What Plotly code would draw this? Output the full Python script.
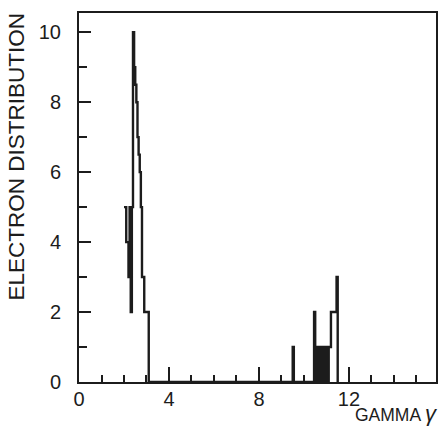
import plotly.graph_objects as go

# Histogram bins (left edges, gamma) and electron counts
gamma_bins = [2.00, 2.05, 2.10, 2.15, 2.20, 2.25, 2.30, 2.35, 2.40, 2.45, 2.50,
              2.55, 2.60, 2.65, 2.70, 2.75, 2.80, 2.85, 2.90, 2.95, 3.00, 3.05, 3.10,
              9.50, 9.55,
              10.45, 10.50, 10.60, 10.65, 10.70, 10.75, 10.80, 10.85, 10.90, 10.95,
              11.00, 11.05, 11.10, 11.15, 11.20, 11.25, 11.30, 11.35, 11.40, 11.45, 11.50]
electron_counts = [5, 5, 4, 4, 3, 5, 2, 5, 10, 9, 8.5,
                   8, 7, 6.5, 6, 5, 3, 3, 2, 2, 2, 2, 0,
                   1, 0,
                   2, 0, 1, 0, 1, 1, 0, 1, 0, 1,
                   1, 0, 1, 1, 2, 2, 2, 2, 2, 3, 0]

x_ticks = [0, 4, 8, 12]
y_ticks = [0, 2, 4, 6, 8, 10]

ink = "#1c1c1c"
font_family = "Liberation Sans, Arial, sans-serif"

fig = go.Figure()
fig.add_trace(go.Scatter(
    x=gamma_bins, y=electron_counts, mode="lines",
    line=dict(shape="hv", color=ink, width=2.4),
    showlegend=False, hoverinfo="skip"))

fig.update_layout(
    width=444, height=430,
    margin=dict(l=79, r=8, t=13, b=48, autoexpand=False),
    paper_bgcolor="white", plot_bgcolor="white",
    font=dict(family=font_family, color=ink),
)
fig.update_xaxes(
    range=[0, 15.87], tickvals=x_ticks, ticktext=[str(v) for v in x_ticks],
    ticks="inside", ticklen=15, tickwidth=2, tickcolor=ink,
    minor=dict(dtick=1, tick0=0, ticks="inside", ticklen=7, tickwidth=2, tickcolor=ink),
    showline=True, linewidth=2, linecolor=ink, mirror=True,
    showgrid=False, zeroline=False, tickfont=dict(size=20),
    automargin=False, ticklabelstandoff=-2,
)
fig.update_yaxes(
    range=[0, 10.55], tickvals=y_ticks, ticktext=[str(v) for v in y_ticks],
    ticks="inside", ticklen=12, tickwidth=2, tickcolor=ink,
    minor=dict(dtick=1, tick0=0, ticks="inside", ticklen=8, tickwidth=2, tickcolor=ink),
    showline=True, linewidth=2, linecolor=ink, mirror=True,
    showgrid=False, zeroline=False, tickfont=dict(size=20),
    automargin=False, ticklabelstandoff=12,
)
fig.add_annotation(
    text="ELECTRON DISTRIBUTION", textangle=-90,
    xref="paper", yref="paper", x=-0.175, y=0.61,
    xanchor="center", yanchor="middle", showarrow=False,
    font=dict(size=22.5, color=ink, family=font_family))
fig.add_annotation(
    text="GAMMA <i><span style='font-size:22px'>γ</span></i>",
    xref="paper", yref="paper", x=1.012, y=-0.085,
    xanchor="right", yanchor="middle", showarrow=False,
    font=dict(size=17.5, color=ink, family=font_family))

fig.write_html(
    "out.html",
    config={"displayModeBar": False},
    post_script="document.body.style.margin='0';document.body.style.overflow='hidden';",
)
